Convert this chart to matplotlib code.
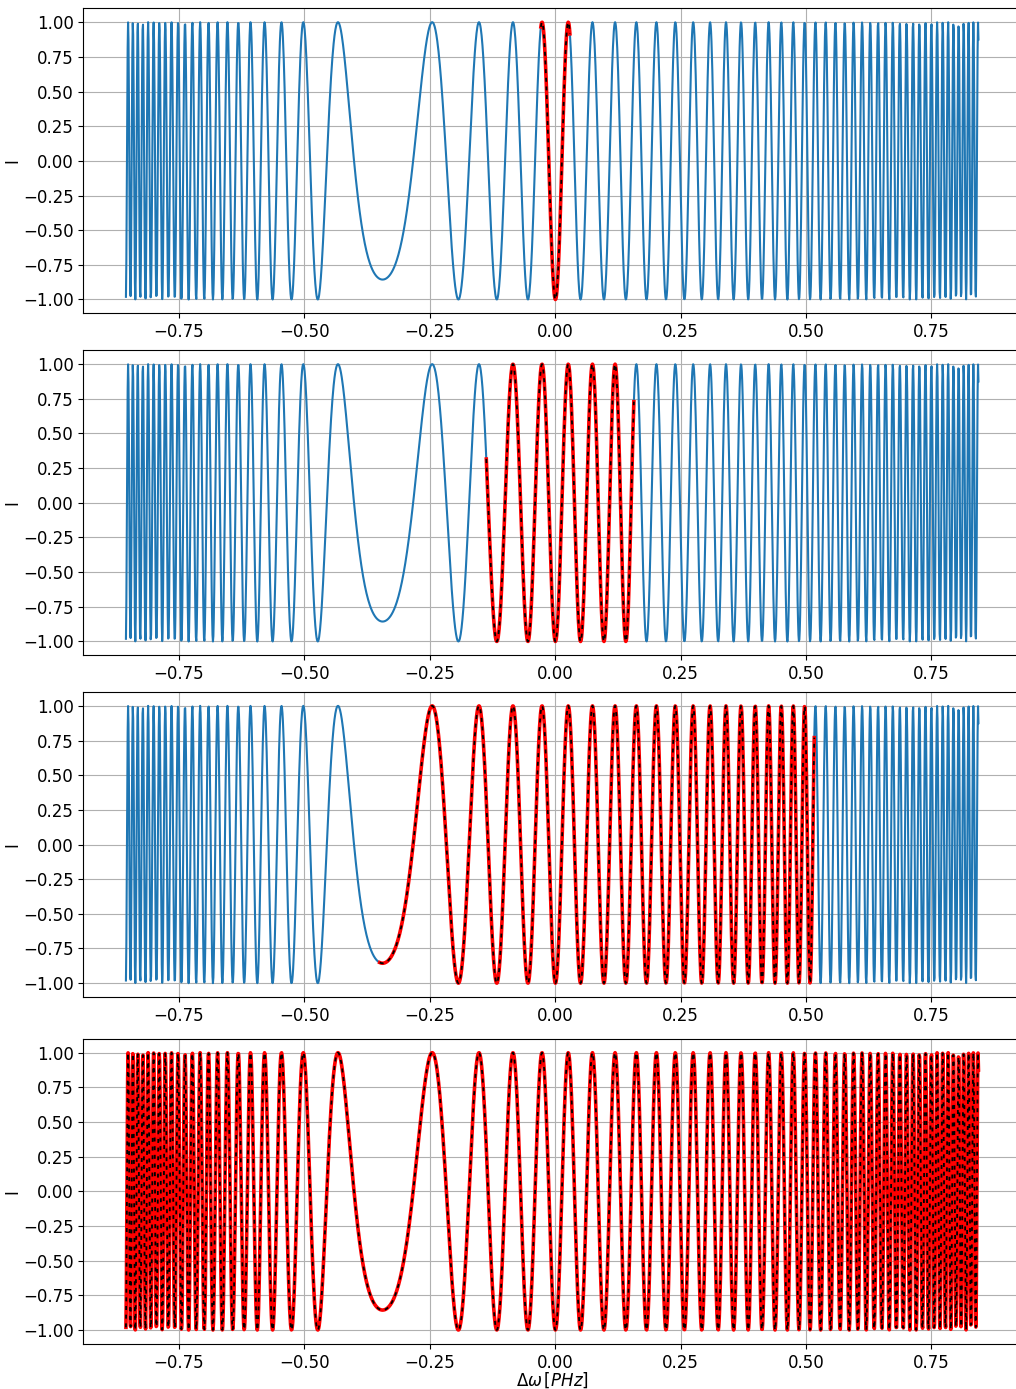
import numpy as np
import matplotlib
matplotlib.use('Agg')
import matplotlib.pyplot as plt

# ---------------- data ----------------
omega_min, omega_max = -0.8555, 0.8438   # spectral range [PHz]
n_samples = 2000

# positions of fringe extrema / level crossings (omega, phase in units of pi)
ext_omega = [-0.851, -0.842, -0.832, -0.822, -0.811, -0.800, -0.789, -0.777,
             -0.765, -0.7516, -0.7376, -0.7237, -0.7071, -0.6906, -0.6727,
             -0.6533, -0.632, -0.6074, -0.5795, -0.5457, -0.5243, -0.5018,
             -0.4725, -0.4326, -0.3995, -0.382, -0.342, -0.2985, -0.2785,
             -0.2452, -0.192, -0.1523, -0.1164, -0.0845, -0.054, -0.0267,
             0.0006, 0.026, 0.0498, 0.075, 0.097, 0.1188, 0.1621, 0.2026,
             0.2404, 0.2757, 0.3096, 0.3409, 0.370, 0.398, 0.4246, 0.4506,
             0.4745, 0.497, 0.519, 0.5395, 0.5594, 0.5787, 0.5947, 0.612,
             0.628, 0.6431, 0.6585, 0.673, 0.687, 0.7004, 0.713, 0.7263,
             0.7382, 0.7502, 0.7616, 0.7727, 0.7835, 0.794, 0.804, 0.814,
             0.824, 0.834, 0.843]
ext_phase_pi = [44, 42, 40, 38, 36, 34, 32, 30,
                28, 26, 24, 22, 20, 18, 16,
                14, 12, 10, 8, 6, 5, 4,
                3, 2, 1.5, 4/3, 7/6, 4/3, 1.5,
                2, 3, 4, 5, 6, 7, 8,
                9, 10, 11, 12, 13, 14, 16, 18,
                20, 22, 24, 26, 28, 30, 32, 34,
                36, 38, 40, 42, 44, 46, 48, 50,
                52, 54, 56, 58, 60, 62, 64, 66,
                68, 70, 72, 74, 76, 78, 80, 82,
                84, 86, 88]

# fitted windows (red / black dashed) per panel
fit_lo = [-0.029, -0.1376, -0.35, -0.8555]
fit_hi = [0.030, 0.1575, 0.517, 0.8438]

# ---------------- build curves ----------------
phase_poly = np.polynomial.Polynomial.fit(np.array(ext_omega),
                                          np.pi * np.array(ext_phase_pi), deg=9)
w = np.linspace(omega_min, omega_max, n_samples)
I = np.cos(phase_poly(w))

plt.rcParams['font.size'] = 12
fig = plt.figure(figsize=(10.16, 13.89), dpi=100)

bottoms = [0.7744, 0.5282, 0.2822, 0.0325]
height = 0.2196
left = 0.082
width = 0.923

for k in range(4):
    ax = fig.add_axes([left, bottoms[k], width, height])
    ax.plot(w, I, color='C0', lw=1.5)
    m = (w >= fit_lo[k]) & (w <= fit_hi[k])
    ax.plot(w[m], I[m], color='red', lw=2.6)
    ax.plot(w[m], I[m], color='black', lw=1.3, dashes=(2.2, 2.6))
    ax.grid(True)
    ax.set_ylabel('I', labelpad=1)
    ax.set_yticks([-1.0, -0.75, -0.5, -0.25, 0.0, 0.25, 0.5, 0.75, 1.0])
    ax.set_xticks([-0.75, -0.5, -0.25, 0.0, 0.25, 0.5, 0.75])
    if k == 3:
        ax.set_xlabel(r'$\Delta\omega\,[PHz]$', labelpad=-1)

fig.savefig('out.png', dpi=100)
